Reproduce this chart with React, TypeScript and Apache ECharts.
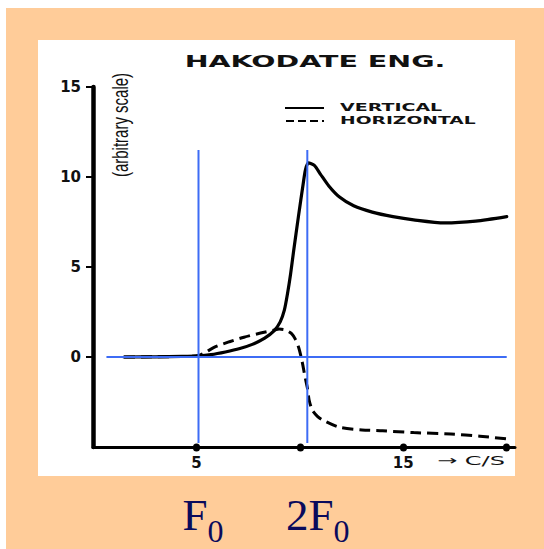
import React, { useEffect, useRef } from 'react';
import * as echarts from 'echarts';

// ---- data ----
const verticalData: [number, number][] = [
  [1.5, 0], [3, 0.01], [4.3, 0.03], [5.1, 0.06], [5.7, 0.13], [6.4, 0.28], [7.1, 0.47],
  [7.7, 0.7], [8.3, 1.05], [8.75, 1.45], [9.05, 1.95], [9.25, 2.6], [9.4, 3.5], [9.55, 4.6],
  [9.7, 5.9], [9.93, 7.8], [10.17, 9.7], [10.27, 10.4], [10.41, 10.78], [10.7, 10.65],
  [11.0, 10.15], [11.4, 9.5], [11.9, 8.9], [12.6, 8.4], [13.5, 8.05], [14.5, 7.8],
  [15.5, 7.62], [17.0, 7.45], [18.5, 7.55], [20.0, 7.8],
];
const horizontalData: [number, number][] = [
  [1.5, 0], [3, 0.01], [4.3, 0.03], [5.1, 0.08], [5.9, 0.56], [6.6, 0.85], [7.3, 1.1],
  [8.1, 1.33], [8.77, 1.5], [9.0, 1.55], [9.3, 1.5], [9.6, 1.3], [9.8, 0.95], [9.95, 0.5],
  [10.1, -0.2], [10.25, -1.1], [10.36, -1.7], [10.45, -2.4], [10.6, -2.95], [10.85, -3.3],
  [11.1, -3.5], [11.9, -3.9], [13.0, -4.05], [14.0, -4.1], [15.5, -4.2], [17.3, -4.28],
  [18.7, -4.4], [20.0, -4.55],
];
const f0Line: [number, number][] = [[5.1, -4.78], [5.1, 11.5]];
const f2Line: [number, number][] = [[10.36, -4.78], [10.36, 11.5]];
const zeroLine: [number, number][] = [[0.65, 0], [20.0, 0]];

const xTickValues = [5, 10, 15, 20];
const xLabelValues = [5, 15];
const yTickValues = [0, 5, 10, 15];
const seriesNames = ['VERTICAL', 'HORIZONTAL'];
const titleText = 'HAKODATE ENG.';
const yName = '(arbitrary scale)';
const xUnit = '\u2192 C/S';

const BLUE = '#3d6cf5';
const NAVY = '#0a0a5c';
const WIDE = "'DejaVu Sans', Verdana, sans-serif";
const SERIF = "'Liberation Serif', 'Times New Roman', serif";

function buildOption(): any {
  const blueSeries = (data: [number, number][]) => ({
    type: 'line',
    data,
    symbol: 'none',
    silent: true,
    z: 4,
    lineStyle: { color: BLUE, width: 2 },
  });
  const richStyle = {
    m: { fontSize: 45, lineHeight: 45, fontFamily: SERIF, fill: NAVY, color: NAVY, verticalAlign: 'bottom', padding: [0, 0, 10, 0] },
    s: { fontSize: 32, lineHeight: 32, fontFamily: SERIF, fill: NAVY, color: NAVY, verticalAlign: 'bottom' },
  };
  return {
    animation: false,
    backgroundColor: 'transparent',
    grid: { left: 93, right: 29, top: 87, bottom: 102, containLabel: false, outerBoundsMode: 'none' },
    xAxis: {
      type: 'value',
      min: 0,
      max: 20.4,
      interval: 5,
      splitLine: { show: false },
      axisLine: { onZero: false, lineStyle: { color: '#000', width: 3 } },
      axisTick: {
        show: true,
        customValues: xTickValues,
        length: 1,
        lineStyle: { color: '#000', width: 7, cap: 'round' },
      },
      axisLabel: {
        customValues: xLabelValues,
        margin: 8,
        color: '#111',
        fontFamily: WIDE,
        fontWeight: 'bold',
        fontSize: 15,
      },
    },
    yAxis: {
      type: 'value',
      min: -5,
      max: 15,
      interval: 5,
      splitLine: { show: false },
      axisLine: { show: true, onZero: false, lineStyle: { color: '#000', width: 4.5 } },
      axisTick: {
        show: true,
        customValues: yTickValues,
        length: 7,
        lineStyle: { color: '#000', width: 2 },
      },
      axisLabel: {
        customValues: yTickValues,
        margin: 12,
        color: '#111',
        fontFamily: WIDE,
        fontWeight: 'bold',
        fontSize: 15,
      },
    },
    series: [
      {
        name: seriesNames[0],
        type: 'line',
        data: verticalData,
        symbol: 'none',
        smooth: 0.25,
        z: 3,
        lineStyle: { color: '#000', width: 3.2, join: 'round', cap: 'round' },
      },
      {
        name: seriesNames[1],
        type: 'line',
        data: horizontalData,
        symbol: 'none',
        smooth: 0.25,
        z: 3,
        lineStyle: { color: '#000', width: 3, type: [11, 6] },
      },
      blueSeries(f0Line),
      blueSeries(f2Line),
      blueSeries(zeroLine),
    ],
    graphic: [
      {
        type: 'text',
        x: 315,
        y: 62,
        scaleX: 1.9,
        style: {
          text: titleText,
          fill: '#111',
          font: `bold 15px ${WIDE}`,
          textAlign: 'center',
          textVerticalAlign: 'middle',
        },
      },
      {
        type: 'text',
        x: 120,
        y: 125,
        rotation: Math.PI / 2,
        scaleY: 1.45,
        style: {
          text: yName,
          fill: '#111',
          font: "15px 'Liberation Sans', Arial, sans-serif",
          textAlign: 'center',
          textVerticalAlign: 'middle',
        },
      },
      {
        type: 'line',
        shape: { x1: 285, y1: 108, x2: 324, y2: 108 },
        style: { stroke: '#000', lineWidth: 2 },
      },
      {
        type: 'line',
        shape: { x1: 286, y1: 121, x2: 324, y2: 121 },
        style: { stroke: '#000', lineWidth: 2, lineDash: [8, 4] },
      },
      {
        type: 'text',
        x: 340,
        y: 108,
        scaleX: 1.9,
        style: {
          text: seriesNames[0],
          fill: '#111',
          font: `bold 10px ${WIDE}`,
          textAlign: 'left',
          textVerticalAlign: 'middle',
        },
      },
      {
        type: 'text',
        x: 340,
        y: 121,
        scaleX: 1.87,
        style: {
          text: seriesNames[1],
          fill: '#111',
          font: `bold 10px ${WIDE}`,
          textAlign: 'left',
          textVerticalAlign: 'middle',
        },
      },
      {
        type: 'text',
        x: 437,
        y: 461,
        scaleX: 1.85,
        style: {
          text: xUnit,
          fill: '#111',
          font: `13px ${WIDE}`,
          textAlign: 'left',
          textVerticalAlign: 'middle',
        },
      },
      {
        type: 'text',
        x: 182.5,
        y: 502,
        style: {
          text: '{m|F}{s|0}',
          textAlign: 'left',
          textVerticalAlign: 'top',
          rich: richStyle,
        },
      },
      {
        type: 'text',
        x: 286,
        y: 502,
        style: {
          text: '{m|2F}{s|0}',
          textAlign: 'left',
          textVerticalAlign: 'top',
          rich: richStyle,
        },
      },
    ],
  };
}

export default function App() {
  const ref = useRef<HTMLDivElement>(null);
  useEffect(() => {
    if (!ref.current) return;
    const chart = echarts.init(ref.current, null, { renderer: 'svg' });
    chart.setOption(buildOption());
    return () => chart.dispose();
  }, []);
  return (
    <div style={{ position: 'absolute', left: 0, top: 0, width: 544, height: 549, background: '#fff', overflow: 'hidden' }}>
      <div style={{ position: 'absolute', left: 6, top: 8, width: 538, height: 541, background: '#FFCC99' }} />
      <div style={{ position: 'absolute', left: 38, top: 40, width: 477, height: 436, background: '#fff' }} />
      <div ref={ref} style={{ position: 'absolute', left: 0, top: 0, width: 544, height: 549 }} />
    </div>
  );
}
